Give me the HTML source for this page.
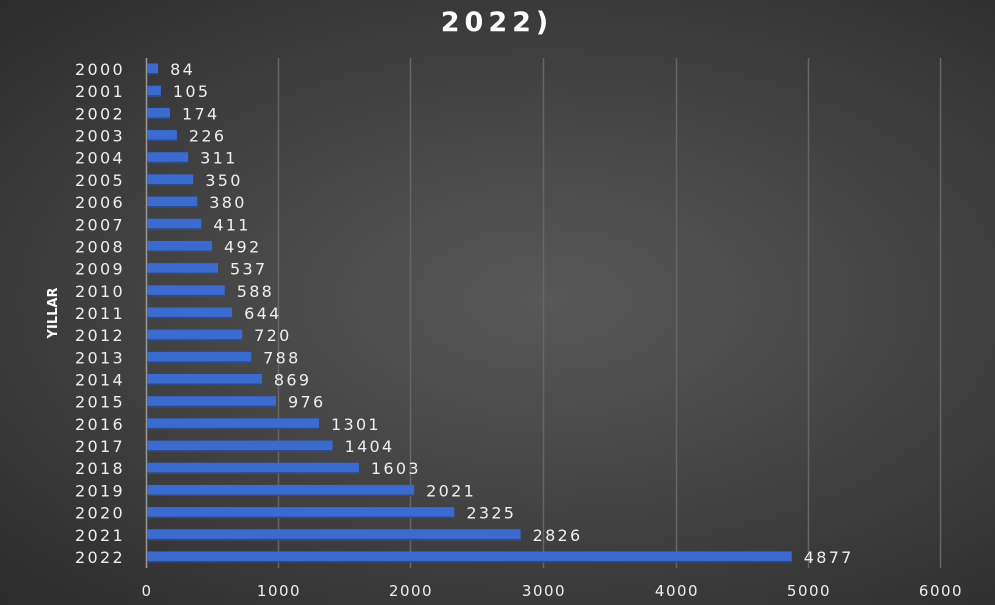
<!DOCTYPE html><html><head><style>body{margin:0;width:995px;height:600px;overflow:hidden;background:radial-gradient(ellipse at 55% 50%,#585858 0%,#454545 45%,#2c2c2c 100%);}text{font-family:"DejaVu Sans",sans-serif;fill:#eee}</style></head><body>
<svg width="995" height="600" xmlns="http://www.w3.org/2000/svg">
<text x="497" y="31" text-anchor="middle" style="font-size:27px;font-weight:bold;fill:#fff;letter-spacing:5px">2022)</text>
<g stroke="#666" stroke-width="1.5">
<line x1="278.5" y1="58" x2="278.5" y2="568"/><line x1="410.5" y1="58" x2="410.5" y2="568"/><line x1="543.5" y1="58" x2="543.5" y2="568"/><line x1="676.5" y1="58" x2="676.5" y2="568"/><line x1="808.5" y1="58" x2="808.5" y2="568"/><line x1="940.5" y1="58" x2="940.5" y2="568"/>
</g>
<line x1="146.5" y1="58" x2="146.5" y2="568" stroke="#999" stroke-width="1.5"/>
<text transform="translate(57,313) rotate(-90)" text-anchor="middle" style="font-size:13px;font-weight:bold;fill:#fff">YILLAR</text>
<g id="g"></g>
<g style="font-size:15px;letter-spacing:1.5px" text-anchor="middle">
<text x="147" y="596">0</text><text x="279" y="596">1000</text><text x="411" y="596">2000</text><text x="544" y="596">3000</text><text x="677" y="596">4000</text><text x="809" y="596">5000</text><text x="941" y="596">6000</text></g>
</svg>
<script>
var v=[84,105,174,226,311,350,380,411,492,537,588,644,720,788,869,976,1301,1404,1603,2021,2325,2826,4877],s='';
v.forEach(function(d,i){var y=69+i*22.18,w=d*0.1322;
s+='<rect x="147" y="'+(y-5.5)+'" width="'+w+'" height="11" fill="#3c6bd0"/>';
s+='<rect x="147" y="'+(y+4)+'" width="'+w+'" height="1.5" fill="#2a4a90"/>';
s+='<text x="75" y="'+(y+6)+'" style="font-size:16px;letter-spacing:2.3px">'+(2000+i)+'</text>';
s+='<text x="'+(147+w+12)+'" y="'+(y+6)+'" style="font-size:16px;letter-spacing:2.3px">'+d+'</text>';});
document.getElementById('g').innerHTML=s;
</script>
</body></html>
